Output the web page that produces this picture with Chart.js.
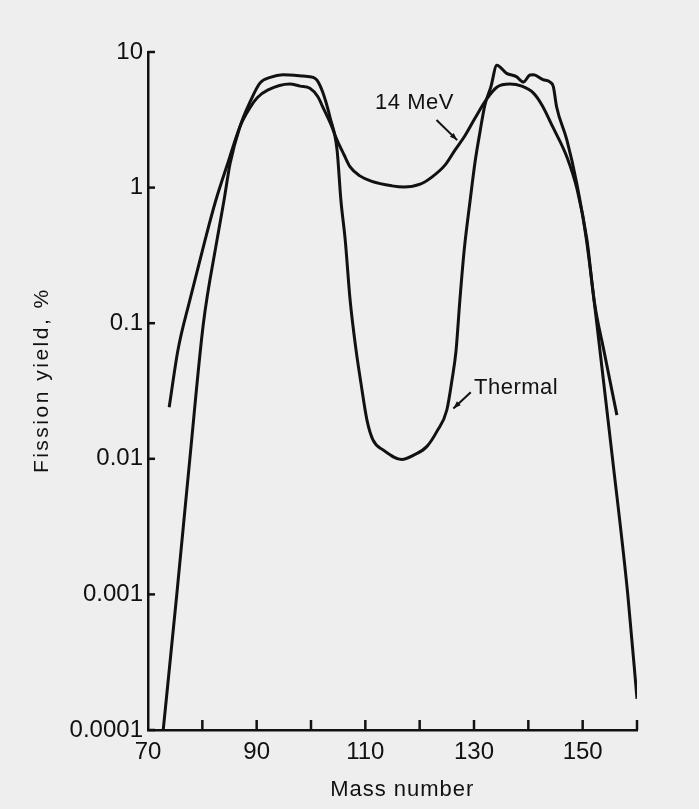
<!DOCTYPE html>
<html>
<head>
<meta charset="utf-8">
<script src="https://cdn.jsdelivr.net/npm/chart.js@4/dist/chart.umd.min.js"></script>
<style>
  html, body { margin: 0; padding: 0; background: #eeeeee; }
  #wrap { width: 699px; height: 809px; }
</style>
</head>
<body>
<div id="wrap"><canvas id="c" width="699" height="809"></canvas></div>
<script>
// ---- data ----
const massThermal = [72.8, 75.3, 77.7, 80.2, 82.7, 84.0, 85.1, 86.9, 88.8, 90.6, 92.5, 94.8, 98.5, 100.4, 101.1, 102.2, 103.5, 104.8, 105.5, 106.3, 107.2, 108.3, 109.2, 110.3, 111.4, 113.3, 116.7, 119.0, 121.3, 123.2, 125.0, 125.95, 126.7, 127.4, 128.2, 129.3, 130.2, 131.1, 132.0, 133.1, 134.2, 136.0, 137.8, 139.1, 140.3, 140.9, 142.7, 144.0, 144.6, 145.2, 147.1, 148.9, 150.7, 152.6, 155.5, 158.3, 160.0];
const yieldThermal = [0.0001, 0.001, 0.01, 0.1, 0.41, 0.81, 1.5, 2.8, 4.3, 5.9, 6.5, 6.8, 6.65, 6.5, 6.2, 5.0, 3.3, 1.89, 0.81, 0.41, 0.148, 0.063, 0.036, 0.0193, 0.0138, 0.0116, 0.0099, 0.0107, 0.0123, 0.016, 0.0229, 0.0381, 0.063, 0.148, 0.347, 0.81, 1.55, 2.57, 4.06, 5.52, 8.0, 6.96, 6.58, 6.0, 6.77, 6.8, 6.25, 6.0, 5.55, 3.95, 2.24, 1.08, 0.41, 0.1, 0.01, 0.001, 0.00017];

const mass14MeV = [73.9, 75.5, 77.7, 80.5, 82.5, 84.7, 86.9, 88.8, 90.1, 92.1, 96.1, 98.0, 99.8, 101.3, 102.2, 103.7, 104.8, 106.1, 107.2, 109.0, 111.2, 114.9, 117.1, 120.1, 122.3, 124.7, 126.5, 128.3, 130.2, 132.2, 134.2, 136.6, 138.8, 140.9, 142.5, 144.5, 147.1, 149.0, 150.8, 152.1, 153.9, 156.3];
const yield14MeV = [0.024, 0.063, 0.148, 0.41, 0.81, 1.52, 2.8, 3.9, 4.6, 5.25, 5.8, 5.6, 5.4, 4.66, 3.9, 2.9, 2.24, 1.74, 1.42, 1.22, 1.11, 1.03, 1.01, 1.06, 1.2, 1.47, 1.89, 2.4, 3.26, 4.42, 5.5, 5.8, 5.6, 5.0, 4.07, 2.8, 1.68, 0.96, 0.41, 0.148, 0.063, 0.021];

const xLabelValues = [70, 90, 110, 130, 150];
const xTickMarks = [80, 90, 100, 110, 120, 130, 140, 150, 160];
const yTickValues = [10, 1, 0.1, 0.01, 0.001, 0.0001];
const yTickLabels = ['10', '1', '0.1', '0.01', '0.001', '0.0001'];

const xTitle = 'Mass number';
const yTitle = 'Fission yield, %';
const label14 = { text: '14 MeV', x: 111.8, y: 4.2, arrowFrom: [123.1, 3.15], arrowTo: [126.9, 2.24] };
const labelThermal = { text: 'Thermal', x: 130.0, y: 0.0333, arrowFrom: [129.4, 0.031], arrowTo: [126.2, 0.0235] };

// ---- chart ----
const INK = '#111111';
const FONT = "'Liberation Sans', Arial, sans-serif";

function toPoints(xs, ys) { return xs.map((x, i) => ({ x: x, y: ys[i] })); }

const decorPlugin = {
  id: 'decor',
  beforeDraw(chart) {
    const ctx = chart.ctx;
    ctx.save();
    ctx.fillStyle = '#eeeeee';
    ctx.fillRect(0, 0, chart.width, chart.height);
    ctx.restore();
  },
  afterDraw(chart) {
    const ctx = chart.ctx;
    const xs = chart.scales.x, ys = chart.scales.y;
    const ca = chart.chartArea;
    const left = ca.left, bottom = ca.bottom;
    ctx.save();
    ctx.strokeStyle = INK;
    ctx.fillStyle = INK;
    ctx.lineWidth = 2.5;
    ctx.lineCap = 'butt';
    // inward ticks on y axis
    yTickValues.forEach(v => {
      const py = ys.getPixelForValue(v);
      ctx.beginPath(); ctx.moveTo(left, py); ctx.lineTo(left + 7, py); ctx.stroke();
    });
    // inward ticks on x axis
    xTickMarks.forEach(v => {
      const px = xs.getPixelForValue(v);
      ctx.beginPath(); ctx.moveTo(px, bottom); ctx.lineTo(px, bottom - 10); ctx.stroke();
    });
    // axis titles
    ctx.textBaseline = 'middle';
    ctx.textAlign = 'center';
    ctx.font = "22px " + FONT;
    ctx.letterSpacing = '1px';
    ctx.fillText(xTitle, xs.getPixelForValue(116.8), 790);
    ctx.save();
    ctx.translate(42, ys.getPixelForValue(0.038));
    ctx.rotate(-Math.PI / 2);
    ctx.font = "21px " + FONT;
    ctx.letterSpacing = '2.5px';
    ctx.fillText(yTitle, 0, 0);
    ctx.restore();
    // annotations
    ctx.font = "22px " + FONT;
    ctx.letterSpacing = '0.5px';
    ctx.textAlign = 'left';
    [label14, labelThermal].forEach(l => {
      const tx = xs.getPixelForValue(l.x), ty = ys.getPixelForValue(l.y);
      ctx.fillText(l.text, tx, ty);
      const x1 = xs.getPixelForValue(l.arrowFrom[0]), y1 = ys.getPixelForValue(l.arrowFrom[1]);
      const x2 = xs.getPixelForValue(l.arrowTo[0]), y2 = ys.getPixelForValue(l.arrowTo[1]);
      ctx.lineWidth = 2;
      ctx.beginPath(); ctx.moveTo(x1, y1); ctx.lineTo(x2, y2); ctx.stroke();
      const ang = Math.atan2(y2 - y1, x2 - x1);
      const hl = 8, hw = 0.35;
      ctx.beginPath();
      ctx.moveTo(x2, y2);
      ctx.lineTo(x2 - hl * Math.cos(ang - hw), y2 - hl * Math.sin(ang - hw));
      ctx.lineTo(x2 - hl * Math.cos(ang + hw), y2 - hl * Math.sin(ang + hw));
      ctx.closePath();
      ctx.fill();
    });
    ctx.restore();
  }
};

new Chart(document.getElementById('c'), {
  type: 'line',
  data: {
    datasets: [
      { label: 'Thermal', data: toPoints(massThermal, yieldThermal), borderColor: INK, borderWidth: 3, pointRadius: 0, cubicInterpolationMode: 'monotone', fill: false },
      { label: '14 MeV', data: toPoints(mass14MeV, yield14MeV), borderColor: INK, borderWidth: 3, pointRadius: 0, cubicInterpolationMode: 'monotone', fill: false }
    ]
  },
  options: {
    responsive: false,
    animation: false,
    devicePixelRatio: 1,
    layout: { padding: { top: 52, right: 62, left: 0, bottom: 0 } },
    plugins: { legend: { display: false }, tooltip: { enabled: false } },
    scales: {
      x: {
        type: 'linear', min: 70, max: 160,
        grid: { display: false, drawTicks: false },
        border: { display: true, color: INK, width: 2.5 },
        afterBuildTicks: s => { s.ticks = xLabelValues.map(v => ({ value: v })); },
        afterFit: s => { s.height = 79; },
        ticks: { color: INK, font: { size: 24, family: FONT }, padding: 8, maxRotation: 0, autoSkip: false, callback: v => String(v) },
        title: { display: false, text: xTitle }
      },
      y: {
        type: 'logarithmic', min: 0.0001, max: 10,
        grid: { display: false, drawTicks: false },
        border: { display: true, color: INK, width: 2.5 },
        afterBuildTicks: s => { s.ticks = yTickValues.map(v => ({ value: v })); },
        afterFit: s => { s.width = 148; },
        ticks: { color: INK, font: { size: 24, family: FONT }, padding: 5, autoSkip: false,
                 callback: (v) => { const i = yTickValues.findIndex(t => Math.abs(Math.log10(t) - Math.log10(v)) < 1e-6); return i >= 0 ? yTickLabels[i] : ''; } },
        title: { display: false, text: yTitle }
      }
    }
  },
  plugins: [decorPlugin]
});
</script>
</body>
</html>
